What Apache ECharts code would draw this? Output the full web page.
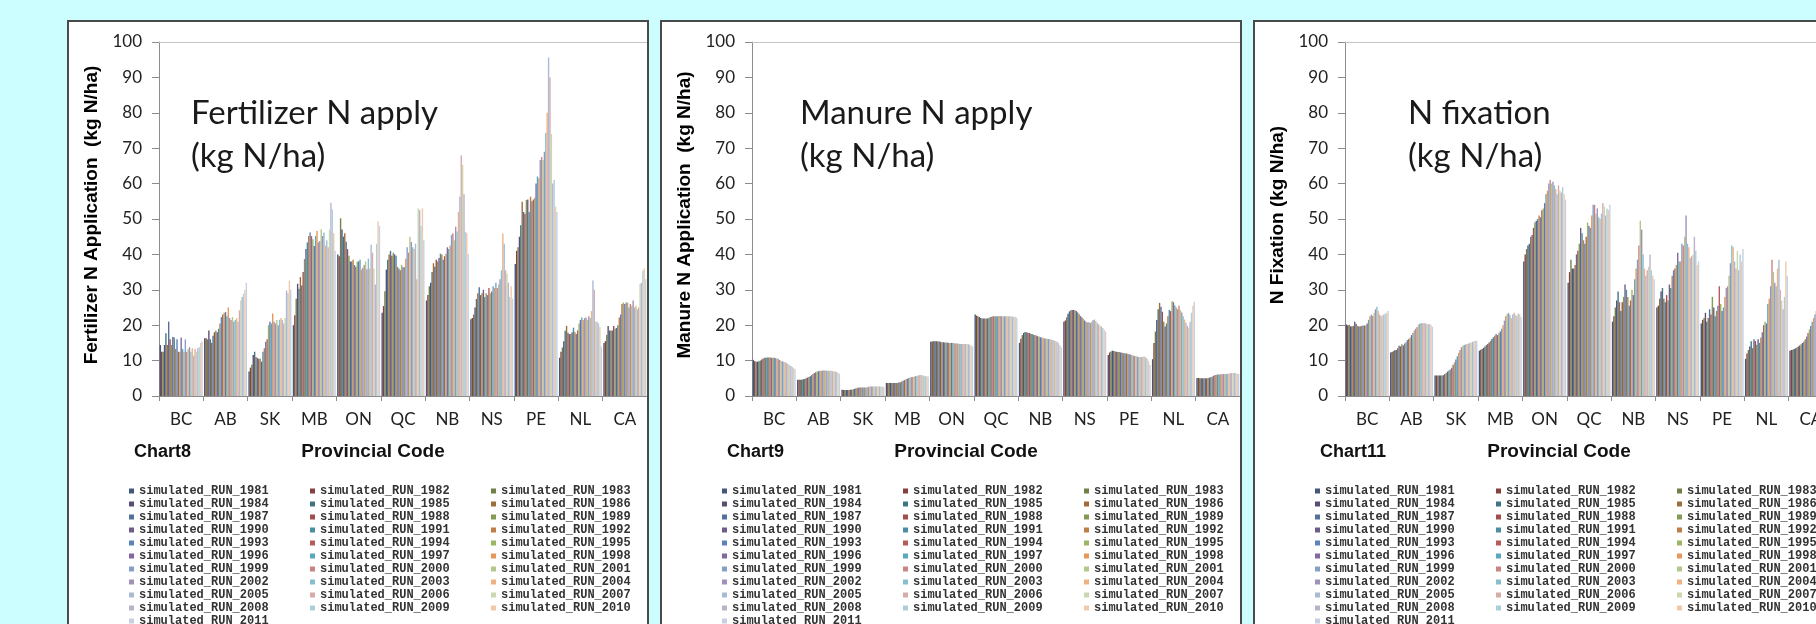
<!DOCTYPE html>
<html>
<head>
<meta charset="utf-8">
<title>Provincial N inputs</title>
<script src="https://cdn.jsdelivr.net/npm/echarts@6/dist/echarts.min.js"></script>
<style>
  html, body { margin: 0; padding: 0; }
  body { width: 1816px; height: 624px; overflow: hidden; background: #ccfeff; position: relative; }
  .panel { position: absolute; top: 20px; width: 582px; height: 640px; box-sizing: border-box; border: 2px solid #4a4a4a; background: #fff; }
  .chart { width: 578px; height: 636px; }
</style>
</head>
<body>
<div class="panel" style="left:67px"><div id="chart8" class="chart"></div></div>
<div class="panel" style="left:660px"><div id="chart9" class="chart"></div></div>
<div class="panel" style="left:1253px"><div id="chart11" class="chart"></div></div>
<script>
const provinces = ['BC', 'AB', 'SK', 'MB', 'ON', 'QC', 'NB', 'NS', 'PE', 'NL', 'CA']
const years = [1981, 1982, 1983, 1984, 1985, 1986, 1987, 1988, 1989, 1990, 1991, 1992, 1993, 1994, 1995, 1996,
  1997, 1998, 1999, 2000, 2001, 2002, 2003, 2004, 2005, 2006, 2007, 2008, 2009, 2010, 2011]
const yTicks = [0, 100, 10] // min, max, step

// one row per province, 31 runs (1981..2011) each, kg N/ha
const fertilizerN = [
  [14.4, 12.5, 12.5, 14.4, 17.7, 14.4, 21, 16, 14.4, 16.7, 16.5, 13.3, 16, 12.5, 12.5, 16.5, 13.3, 12.5, 16, 12.5, 13.3, 13.8, 12.5, 13.5, 11.4, 13.3, 12.5, 13.5, 13.8, 15, 15.5],
  [16.3, 16.3, 16, 18.5, 16, 15, 17, 18, 18.5, 18, 19, 20.5, 22.3, 23, 23.5, 23.7, 22.5, 25, 22, 21.5, 22.3, 21, 21.5, 22, 21, 24.2, 27, 28, 28.9, 30, 32],
  [6.9, 8, 8.8, 11.6, 12.5, 11, 10.7, 10.5, 10.5, 9.7, 12.5, 13.5, 15.3, 16, 20, 21, 20.5, 23.3, 21, 20.5, 21.5, 20, 21.5, 22, 21.5, 20.5, 22, 29.8, 29, 32.6, 30],
  [20, 22.8, 27.5, 31.7, 30.3, 33.6, 31.2, 35, 38.7, 41.5, 43.4, 45.2, 46.2, 45.2, 44.3, 42.4, 45.2, 46.6, 43.4, 43.8, 47.1, 45.2, 46.2, 42.5, 44, 42, 47, 54.6, 52.7, 46, 41],
  [40, 39.5, 50.2, 47, 45, 46, 43.6, 41.5, 39.6, 38, 38, 38.5, 37, 36.5, 38, 38, 38.5, 35.7, 36.2, 37, 38, 35.8, 38.8, 36, 42.7, 40.5, 36, 31.5, 43, 49.3, 48],
  [23.5, 25.4, 29.6, 35.7, 38.5, 40, 41, 39.6, 40.5, 40, 39.6, 36.5, 36, 35.5, 37, 36.4, 36.4, 38.8, 42, 40.5, 45, 43.5, 42, 41.5, 43, 33, 53, 52.5, 48, 53, 44],
  [27, 28.5, 31, 32, 35, 37.5, 36.5, 38.5, 38, 39, 40.2, 40, 38.5, 39.5, 40.2, 42, 41.5, 42.5, 45.5, 46, 44, 47.8, 46.5, 52, 56.3, 68, 65.3, 57, 46.4, 46, 40.2],
  [21.7, 22, 23, 25, 27.4, 29, 30.7, 28.5, 29, 30, 28, 29, 28.5, 30.5, 29, 29.5, 31, 30.5, 32, 30.5, 31.5, 33, 35.5, 45.9, 43, 35.5, 34.5, 32, 28, 31, 27.5],
  [37.3, 41, 42, 45, 48.2, 54.9, 52, 51.5, 55.4, 55.5, 52, 56.3, 55, 55.5, 56, 60, 62, 61.5, 66.7, 67.5, 66.7, 69, 74.3, 80, 95.6, 90, 74, 60, 61, 53.5, 52],
  [10.8, 12.5, 13.7, 15.5, 18.4, 19.8, 17.9, 17.5, 17.5, 18, 19.3, 18, 17.5, 18.5, 20.5, 21.5, 22.2, 21.5, 22, 22.2, 21.5, 22.5, 22, 24, 32.6, 30, 21, 21, 20.5, 19.5, 14],
  [15, 15.5, 17.2, 19.8, 18.5, 18.5, 18.5, 19.8, 19, 19.2, 20, 22.2, 23, 26, 26.4, 26, 26.4, 26.4, 25, 26, 25.5, 27, 25, 25.5, 24.5, 25, 31.7, 32, 35.4, 36, 33]
]

const manureN = [
  [10.2, 9.8, 9.7, 9.7, 9.8, 10.0, 10.3, 10.6, 10.8, 10.8, 10.9, 10.9, 10.9, 10.8, 10.8, 10.8, 10.7, 10.6, 10.5, 10.2, 9.9, 9.8, 9.6, 9.5, 9.3, 9.0, 8.8, 8.5, 8.2, 7.9, 7.6],
  [4.6, 4.6, 4.6, 4.6, 4.7, 4.8, 5.0, 5.2, 5.4, 5.6, 5.9, 6.2, 6.5, 6.7, 6.9, 7.0, 7.1, 7.1, 7.2, 7.2, 7.2, 7.1, 7.1, 7.1, 7.1, 7.0, 7.0, 6.9, 6.8, 6.6, 6.3],
  [1.8, 1.7, 1.7, 1.7, 1.7, 1.7, 1.8, 1.8, 1.9, 2.0, 2.2, 2.3, 2.4, 2.4, 2.4, 2.4, 2.4, 2.4, 2.5, 2.6, 2.7, 2.7, 2.7, 2.7, 2.7, 2.7, 2.7, 2.7, 2.7, 2.6, 2.6],
  [3.7, 3.7, 3.7, 3.7, 3.7, 3.7, 3.7, 3.7, 3.7, 3.8, 3.9, 4.1, 4.3, 4.5, 4.7, 4.9, 5.1, 5.2, 5.3, 5.4, 5.5, 5.6, 5.7, 5.8, 5.9, 5.9, 5.8, 5.7, 5.6, 5.6, 5.5],
  [15.3, 15.4, 15.5, 15.5, 15.5, 15.4, 15.4, 15.3, 15.2, 15.2, 15.1, 15.1, 15.1, 15.0, 15.0, 15.0, 15.0, 14.9, 14.8, 14.8, 14.8, 14.7, 14.7, 14.7, 14.7, 14.7, 14.7, 14.6, 14.5, 14.3, 14.0],
  [23.0, 22.7, 22.5, 22.3, 22.0, 21.9, 21.9, 21.9, 21.9, 21.9, 22.1, 22.3, 22.4, 22.5, 22.5, 22.5, 22.5, 22.6, 22.6, 22.5, 22.5, 22.5, 22.5, 22.5, 22.5, 22.5, 22.5, 22.4, 22.4, 22.3, 22.1],
  [15.0, 16.2, 17.2, 17.8, 18.1, 18.0, 17.9, 17.8, 17.6, 17.5, 17.3, 17.2, 17.1, 16.9, 16.8, 16.6, 16.5, 16.4, 16.3, 16.2, 16.2, 16.1, 16.0, 15.9, 15.8, 15.6, 15.5, 15.3, 15.0, 14.4, 13.8],
  [21.0, 21.3, 22.2, 23.2, 23.9, 24.2, 24.3, 24.3, 24.2, 24.0, 23.6, 23.1, 22.6, 22.2, 21.8, 21.3, 20.9, 20.8, 20.8, 20.6, 20.9, 21.4, 21.6, 21.2, 20.6, 20.2, 19.9, 19.6, 19.2, 18.7, 18.2],
  [11.6, 12.3, 12.6, 12.8, 12.7, 12.6, 12.5, 12.4, 12.4, 12.3, 12.2, 12.1, 12.1, 12.0, 11.9, 11.8, 11.7, 11.6, 11.4, 11.3, 11.2, 11.1, 11.0, 11.0, 11.0, 11.1, 11.2, 10.9, 10.5, 9.9, 8.8],
  [10.4, 15.0, 18.2, 21.5, 24.5, 26.3, 25.2, 23.8, 21.0, 19.6, 20.5, 22.5, 24.3, 24.0, 26.8, 26.5, 25.6, 25.0, 24.5, 25.5, 24.3, 23.6, 22.5, 21.6, 20.7, 19.8, 19.3, 21.0, 23.5, 25.5, 26.6],
  [5.1, 5.1, 5.0, 5.0, 5.0, 5.0, 5.0, 5.0, 5.1, 5.2, 5.3, 5.5, 5.7, 5.9, 6.0, 6.1, 6.1, 6.1, 6.2, 6.2, 6.2, 6.2, 6.3, 6.3, 6.4, 6.5, 6.5, 6.5, 6.4, 6.3, 6.2]
]

const fixationN = [
  [20.2, 20.0, 20.1, 19.7, 19.6, 19.8, 21.0, 20.4, 19.8, 19.6, 19.7, 19.8, 19.9, 19.9, 20.0, 20.5, 21.5, 22.5, 23.0, 22.6, 23.5, 24.5, 25.2, 24.0, 23.0, 22.5, 22.8, 23.0, 23.2, 23.5, 24.0],
  [12.3, 12.4, 12.7, 12.9, 13.0, 13.5, 14.2, 14.0, 14.6, 14.3, 14.8, 15.2, 15.8, 16.1, 16.5, 17.2, 17.8, 18.5, 19.0, 19.5, 20.2, 20.4, 20.6, 20.5, 20.6, 20.5, 20.4, 20.3, 20.3, 20.1, 19.6],
  [5.8, 5.8, 5.8, 5.8, 5.8, 5.8, 5.9, 6.2, 6.5, 6.9, 7.2, 7.5, 8.0, 8.8, 9.5, 10.3, 11.2, 12.2, 13.0, 13.8, 14.2, 14.4, 14.6, 14.7, 14.8, 15.0, 15.1, 15.3, 15.5, 15.6, 15.6],
  [12.8, 13.1, 13.3, 13.6, 14.0, 14.4, 14.7, 15.1, 15.6, 16.1, 16.6, 17.0, 17.5, 17.2, 17.7, 18.2, 19.0, 20.0, 21.3, 22.5, 23.2, 23.4, 22.8, 22.0, 23.0, 23.5, 23.0, 22.6, 23.3, 23.1, 22.3],
  [38.0, 40.0, 41.5, 42.5, 43.0, 45.0, 45.5, 47.5, 49.0, 49.5, 50.0, 51.0, 50.5, 52.5, 53.0, 54.5, 57.0, 58.0, 60.0, 61.0, 60.0, 60.5, 59.5, 58.5, 57.0, 59.5, 58.0, 57.5, 59.0, 57.0, 55.5],
  [32, 35, 38.5, 36, 36, 37, 40, 41, 43, 47.5, 46, 44, 43, 45, 49, 48, 47.5, 51, 54, 54, 51.5, 53, 50.5, 50, 51.5, 54.5, 53.5, 51, 53, 52.5, 54],
  [21, 22.5, 25, 27, 29.5, 26.5, 24, 26.5, 28, 31.5, 30, 28, 25.5, 27, 30, 28.5, 33, 36, 38.5, 42.5, 49.5, 47, 40, 36, 34, 35.5, 36.5, 40, 35.5, 34, 33],
  [25, 25.5, 27.5, 29.5, 30.5, 27.5, 26.5, 28.5, 27, 31.5, 30.5, 34, 35.5, 36, 37, 40.5, 38, 38, 43, 42.5, 45, 51, 43, 42, 39, 39.5, 40, 45, 41, 37, 38],
  [20.5, 21.5, 22, 23.5, 21, 22, 24.5, 23, 28, 25, 22.5, 24, 25.5, 31, 26, 24, 25, 28, 30.5, 31, 34, 37.5, 42.5, 42, 38, 36, 41, 35.5, 40, 38, 41.5],
  [10.5, 12, 13, 14, 15.5, 13.5, 16, 15.5, 14.5, 16, 15, 16.5, 18, 20, 21, 20.5, 26, 27.5, 31, 38.5, 35, 32, 31, 36, 38.5, 30, 27, 24.5, 28, 38, 34],
  [12.8, 13, 13.1, 13.3, 13.5, 13.7, 14, 14.3, 14.6, 15, 15.4, 16, 16.8, 17.8, 18.8, 19.8, 21, 22, 23, 24, 25, 26, 27, 27.5, 28, 28.5, 29, 29.5, 30, 30, 30]
]

// office-style palette, a little washed out: six accents, dark -> light
const palette = [
  '#43577a', '#86403e', '#6f8148', '#5d4c73', '#3f7583', '#9f6c3c',
  '#52709a', '#9e4e4c', '#839a56', '#6e5b88', '#4a8ea0', '#bf7e45',
  '#5b84b8', '#b85b58', '#9bb664', '#8169a0', '#58a8be', '#e8975a',
  '#84a0c8', '#c98583', '#b3c88c', '#a091b8', '#86bfd0', '#eeb285',
  '#a9bad5', '#d6abaa', '#c9d8b0', '#bdb2cc', '#abd0db', '#f0c8aa',
  '#c6d0e2'
]

const axisGray = '#8c8c8c'
const labelFont = 'Lato, "Noto Sans", sans-serif'

function buildOption(cfg) {
  const series = years.map((y, i) => ({
    name: 'simulated_RUN_' + y,
    type: 'bar',
    barGap: '0%',
    barCategoryGap: '3%',
    itemStyle: { color: palette[i] },
    data: provinces.map((p, j) => cfg.values[j][i])
  }))
  return {
    animation: false,
    grid: { left: 90, top: 20, width: 488, height: 354, outerBoundsMode: 'none' },
    xAxis: [
      {
        type: 'category',
        data: provinces,
        axisLine: { lineStyle: { color: axisGray, width: 1 } },
        axisTick: { show: true, length: 5, lineStyle: { color: axisGray } },
        axisLabel: { interval: 0, margin: 15, fontFamily: labelFont, fontSize: 17, color: '#222' }
      },
      {
        type: 'category',
        position: 'top',
        data: provinces,
        axisLine: { lineStyle: { color: '#c4c4c4', width: 1 } },
        axisTick: { show: false },
        axisLabel: { show: false }
      }
    ],
    yAxis: {
      type: 'value',
      min: yTicks[0],
      max: yTicks[1],
      interval: yTicks[2],
      axisLine: { show: true, lineStyle: { color: axisGray, width: 1 } },
      axisTick: { show: true, length: 7, lineStyle: { color: axisGray } },
      axisLabel: { margin: 17, fontFamily: labelFont, fontSize: 17, color: '#222' },
      splitLine: { show: false }
    },
    legend: {
      selectedMode: false,
      left: 60,
      top: 463,
      width: 560,
      padding: 0,
      icon: 'rect',
      itemWidth: 5,
      itemHeight: 5,
      itemGap: 1,
      textStyle: {
        fontFamily: '"Liberation Mono", monospace', fontWeight: 'bold', fontSize: 12,
        color: '#333', width: 170, lineHeight: 12
      }
    },
    graphic: [
      {
        type: 'text', x: 23, y: 193, rotation: Math.PI / 2,
        style: { text: cfg.yTitle, font: 'bold 19px "Liberation Sans", Arial, sans-serif', fill: '#000', align: 'center', verticalAlign: 'middle' }
      },
      {
        type: 'text', x: cfg.noteX, y: 91,
        style: { text: cfg.note, font: '33px ' + labelFont, fill: '#1a1a1a', align: 'left', verticalAlign: 'middle' }
      },
      {
        type: 'text', x: cfg.noteX, y: 134,
        style: { text: '(kg N/ha)', font: '33px ' + labelFont, fill: '#1a1a1a', align: 'left', verticalAlign: 'middle' }
      },
      {
        type: 'text', x: 65, y: 430,
        style: { text: cfg.chartName, font: 'bold 18px "Liberation Sans", Arial, sans-serif', fill: '#111', align: 'left', verticalAlign: 'middle' }
      },
      {
        type: 'text', x: 304, y: 430,
        style: { text: 'Provincial Code', font: 'bold 19px "Liberation Sans", Arial, sans-serif', fill: '#111', align: 'center', verticalAlign: 'middle' }
      }
    ],
    series: series
  }
}

const panels = [
  { id: 'chart8', chartName: 'Chart8', yTitle: 'Fertilizer N Application  (kg N/ha)', note: 'Fertilizer N apply', noteX: 122, values: fertilizerN },
  { id: 'chart9', chartName: 'Chart9', yTitle: 'Manure N Application  (kg N/ha)', note: 'Manure N apply', noteX: 138, values: manureN },
  { id: 'chart11', chartName: 'Chart11', yTitle: 'N Fixation (kg N/ha)', note: 'N fixation', noteX: 153, values: fixationN }
]

panels.forEach(cfg => {
  const chart = echarts.init(document.getElementById(cfg.id), null, { renderer: 'canvas' })
  chart.setOption(buildOption(cfg))
})
</script>
</body>
</html>
